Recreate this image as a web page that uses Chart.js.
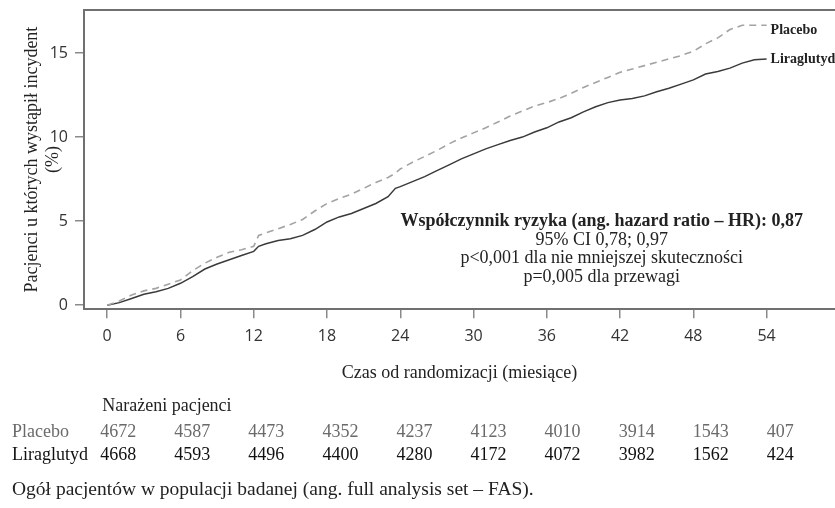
<!DOCTYPE html>
<html><head><meta charset="utf-8">
<script src="https://cdn.jsdelivr.net/npm/chart.js@4/dist/chart.umd.min.js"></script>
<style>html,body{margin:0;padding:0;background:#fff;}#wrap{width:835px;height:508px;position:relative;}</style>
</head><body><div id="wrap"><canvas id="c" width="835" height="508"></canvas></div>
<script>
// ---- data ----
const months = [0,1,2,3,4,5,6,7,8,9,10,11,12,12.4,13,14,15,16,17,18,19,20,21,22,23,23.6,24,25,26,27,28,29,30,31,32,33,34,35,36,37,38,39,40,41,42,43,44,45,46,47,48,49,50,51,52,53,54];
const placebo = [0,0.25,0.6,0.85,1.0,1.25,1.5,2.05,2.5,2.85,3.15,3.3,3.5,4.15,4.3,4.55,4.8,5.1,5.6,6.05,6.35,6.6,6.95,7.3,7.6,7.85,8.1,8.5,8.85,9.2,9.6,9.95,10.25,10.55,10.9,11.25,11.55,11.85,12.05,12.3,12.6,12.95,13.25,13.55,13.85,14.05,14.25,14.45,14.65,14.85,15.1,15.55,15.9,16.4,16.65,16.65,16.65];
const liraglutyd = [0,0.15,0.4,0.65,0.8,1.0,1.3,1.7,2.15,2.45,2.7,2.95,3.2,3.5,3.65,3.85,3.95,4.15,4.5,4.95,5.25,5.45,5.75,6.05,6.45,6.95,7.05,7.35,7.65,8.0,8.35,8.7,9.0,9.3,9.55,9.8,10.0,10.3,10.55,10.9,11.15,11.5,11.8,12.05,12.2,12.3,12.45,12.7,12.9,13.15,13.4,13.75,13.9,14.1,14.4,14.6,14.65];
const seriesNames = ['Placebo','Liraglutyd'];
const xTicks = [0,6,12,18,24,30,36,42,48,54];
const yTicks = [0,5,10,15];
const riskMonths = [0,6,12,18,24,30,36,42,48,54];
const riskPlacebo = [4672,4587,4473,4352,4237,4123,4010,3914,1543,407];
const riskLiraglutyd = [4668,4593,4496,4400,4280,4172,4072,3982,1562,424];
const yTitle = ['Pacjenci u których wystąpił incydent','(%)'];
const xTitle = 'Czas od randomizacji (miesiące)';
const riskHeader = 'Narażeni pacjenci';
const annotationLines = ['Współczynnik ryzyka (ang. hazard ratio – HR): 0,87','95% CI 0,78; 0,97','p<0,001 dla nie mniejszej skuteczności','p=0,005 dla przewagi'];
const footnote = 'Ogół pacjentów w populacji badanej (ang. full analysis set – FAS).';

// ---- chart ----
const SERIF = '"Liberation Serif", "Times New Roman", serif';
const SANS = '"Open Sans", "DejaVu Sans", sans-serif';
const FRAME = '#707070';
const TEXT = '#222';

const toXY = vals => vals.map((v,i)=>({x:months[i], y:v}));

const extras = {
  id:'extras',
  afterDraw(chart){
    const ctx = chart.ctx, xs = chart.scales.x, ys = chart.scales.y;
    ctx.save();
    ctx.textBaseline = 'middle';
    // series end labels
    ctx.font = 'bold 14px ' + SERIF;
    ctx.fillStyle = TEXT;
    ctx.textAlign = 'left';
    const last = months.length - 1;
    const ex = xs.getPixelForValue(months[last]) + 4;
    ctx.fillText(seriesNames[0], ex, ys.getPixelForValue(placebo[last]) + 5);
    ctx.fillText(seriesNames[1], ex, ys.getPixelForValue(liraglutyd[last]));
    // annotation
    ctx.textAlign = 'center';
    const ax = xs.getPixelForValue(40.5);
    let ay = ys.getPixelForValue(5);
    annotationLines.forEach((t,i)=>{
      ctx.font = (i===0 ? 'bold ' : '') + '18px ' + SERIF;
      ctx.fillText(t, ax, ay + i*18.7);
    });
    // risk table
    ctx.textAlign = 'left';
    ctx.font = '18px ' + SERIF;
    const area = chart.chartArea;
    const base = area.bottom;
    ctx.fillStyle = TEXT;
    ctx.fillText(riskHeader, xs.getPixelForValue(0) - 5, base + 97);
    const rows = [[seriesNames[0], riskPlacebo, '#6a6a6a', base + 123],[seriesNames[1], riskLiraglutyd, '#111', base + 146]];
    rows.forEach(([name, vals, col, yy])=>{
      ctx.fillStyle = col;
      ctx.fillText(name, 12, yy);
      vals.forEach((v,k)=>{
        ctx.fillText(String(v), xs.getPixelForValue(riskMonths[k]) - 7 + k*0.8, yy);
      });
    });
    ctx.fillStyle = TEXT;
    ctx.font = '19.5px ' + SERIF;
    ctx.fillText(footnote, 12, base + 181);
    ctx.restore();
  }
};

new Chart(document.getElementById('c'), {
  type:'line',
  data:{
    datasets:[
      {label:seriesNames[0], data:toXY(placebo), borderColor:'#a3a3a3', borderWidth:1.6, borderDash:[7,5], pointRadius:0, fill:false, tension:0},
      {label:seriesNames[1], data:toXY(liraglutyd), borderColor:'#3a3a3a', borderWidth:1.5, pointRadius:0, fill:false, tension:0}
    ]
  },
  options:{
    responsive:false, animation:false, devicePixelRatio:1,
    layout:{padding:{left:0, top:10, right:0, bottom:124}},
    plugins:{legend:{display:false}, tooltip:{enabled:false}},
    scales:{
      x:{type:'linear', position:'bottom', min:-1.9, max:59.6,
        afterBuildTicks(s){ s.ticks = xTicks.map(v=>({value:v})); },
        grid:{drawOnChartArea:false, drawTicks:true, tickLength:9, color:'#8a8a8a', lineWidth:1.5},
        border:{display:true, color:FRAME, width:2},
        ticks:{padding:9, color:'#333', font:{family:SANS, size:16}, maxRotation:0, autoSkip:false},
        title:{display:true, text:xTitle, color:TEXT, font:{family:SERIF, size:18}, padding:{top:7, bottom:0}}
      },
      x2:{type:'linear', position:'top', min:-1.9, max:59.6,
        grid:{drawOnChartArea:false, drawTicks:false},
        border:{display:true, color:FRAME, width:2},
        ticks:{display:false}
      },
      y:{type:'linear', position:'left', min:-0.24, max:17.56,
        afterBuildTicks(s){ s.ticks = yTicks.map(v=>({value:v})); },
        afterFit(s){ s.paddingTop = 0; s.paddingBottom = 0; },
        grid:{drawOnChartArea:false, drawTicks:true, tickLength:9, color:'#8a8a8a', lineWidth:1.5},
        border:{display:true, color:FRAME, width:2},
        ticks:{padding:7, color:'#333', font:{family:SANS, size:16}},
        title:{display:true, text:yTitle, color:TEXT, font:{family:SERIF, size:18, lineHeight:'21px'}, padding:{top:21.5, bottom:-20.8}}
      }
    }
  },
  plugins:[extras]
});
</script>
</body></html>
